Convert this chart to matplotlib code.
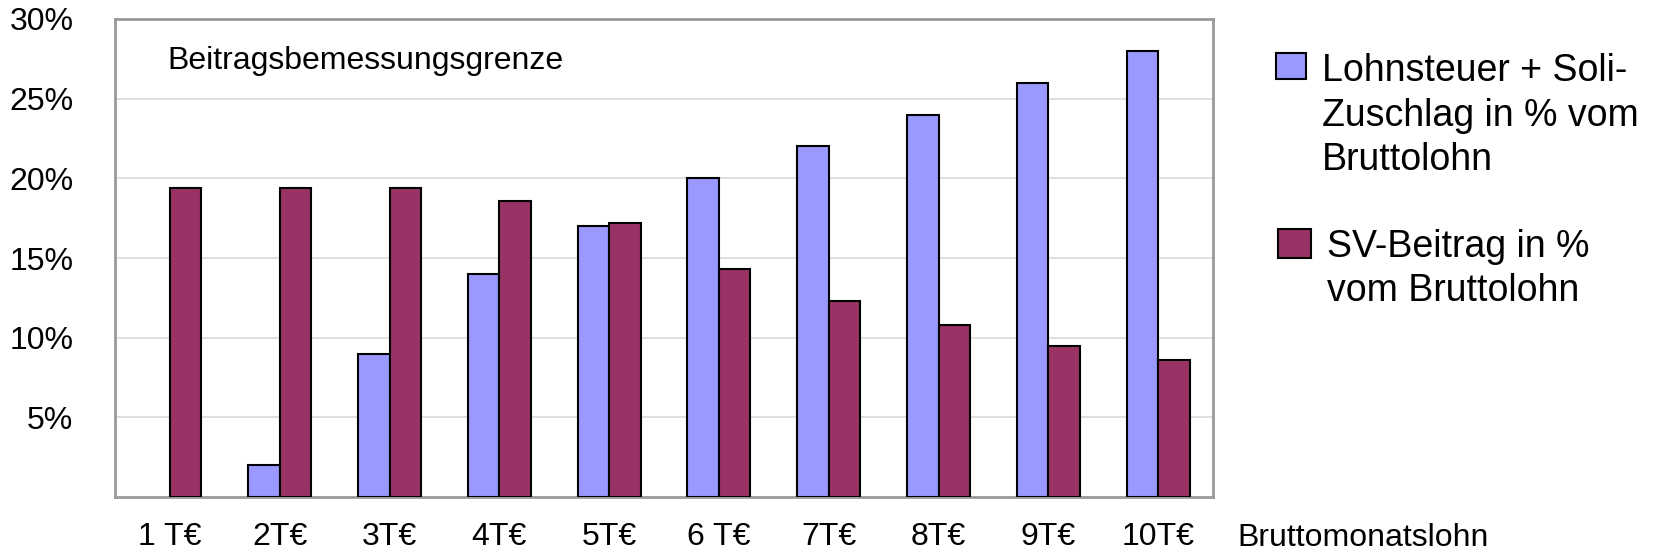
import numpy as np
import matplotlib
matplotlib.use("Agg")
import matplotlib.pyplot as plt
from matplotlib.patches import Rectangle

plt.rcParams['font.family'] = ['Liberation Sans', 'DejaVu Sans']

categories = ['1 T€', '2T€', '3T€', '4T€', '5T€', '6 T€', '7T€', '8T€', '9T€', '10T€']
lohnsteuer = [0, 2.0, 9.0, 14.0, 17.0, 20.0, 22.0, 24.0, 26.0, 28.0]
sv_beitrag = [19.4, 19.4, 19.4, 18.6, 17.2, 14.3, 12.3, 10.8, 9.5, 8.6]
labels = ['Lohnsteuer + Soli-\nZuschlag in % vom\nBruttolohn', 'SV-Beitrag in %\nvom Bruttolohn']
yticks = [5, 10, 15, 20, 25, 30]

col_blue = '#9999FF'
col_red = '#993366'

fig = plt.figure(figsize=(16.55, 5.54), dpi=100)
ax = fig.add_axes([115/1655, 1-497/554, (1213-115)/1655, (497-19)/554])

x = np.arange(len(categories))
w = 0.287
# no outline for empty bars
ax.bar(x - w/2, lohnsteuer, w, color=col_blue, edgecolor='black',
       linewidth=[0 if v == 0 else 1.5 for v in lohnsteuer], zorder=3)
ax.bar(x + w/2, sv_beitrag, w, color=col_red, edgecolor='black',
       linewidth=[0 if v == 0 else 1.5 for v in sv_beitrag], zorder=3)

ax.set_xlim(-0.5, len(categories) - 0.5)
ax.set_ylim(0, 30)
ax.set_yticks(yticks)
ax.set_yticklabels([f'{v}%' for v in yticks], fontsize=23)
ax.set_xticks(x)
ax.set_xticklabels(categories, fontsize=23)
ax.tick_params(axis='both', length=0)
ax.tick_params(axis='y', pad=30)
ax.tick_params(axis='x', pad=18)
ax.yaxis.grid(True, color='#D9D9D9', linewidth=1.2, zorder=0)
for s in ax.spines.values():
    s.set_color('#999999')
    s.set_linewidth(2)

ax.text(0.048, 0.912, 'Beitragsbemessungsgrenze', transform=ax.transAxes,
        fontsize=23, va='center', ha='left')

fig.text(1237/1655, 1-538/554, 'Bruttomonatslohn', fontsize=23, va='center', ha='left')

# legend drawn by hand, text placed by the baseline of its last line
fig.patches.append(Rectangle((1276/1655, 1-79/554), 30/1655, 26/554, transform=fig.transFigure,
                             facecolor=col_blue, edgecolor='black', linewidth=1.5))
fig.text(1322/1655, 1-170/554, labels[0], fontsize=27, va='baseline', ha='left', linespacing=1.3,
         transform=fig.transFigure)
fig.patches.append(Rectangle((1278/1655, 1-258/554), 33/1655, 29/554, transform=fig.transFigure,
                             facecolor=col_red, edgecolor='black', linewidth=1.5))
fig.text(1327/1655, 1-301/554, labels[1], fontsize=27, va='baseline', ha='left', linespacing=1.3,
         transform=fig.transFigure)

fig.savefig('out.png', dpi=100)
